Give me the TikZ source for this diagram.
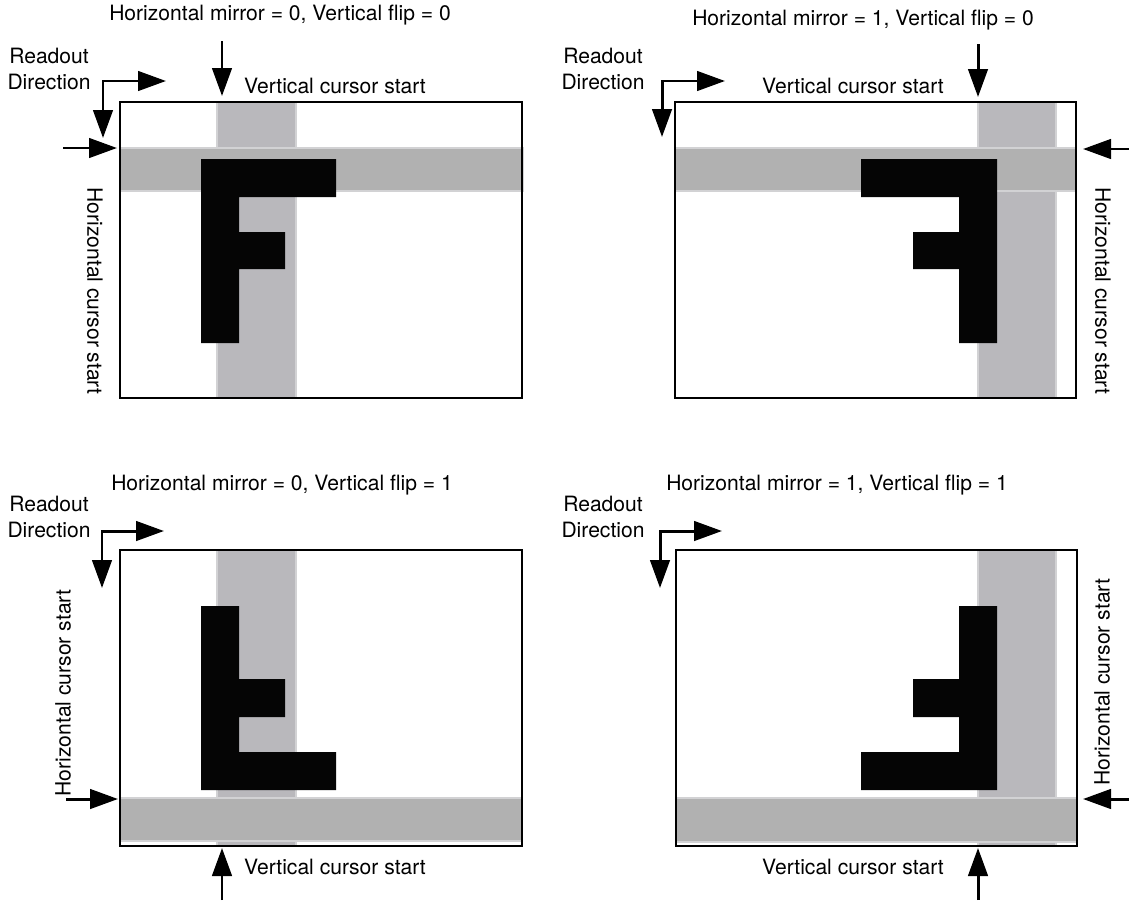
\documentclass[tikz,border=0pt]{standalone}
\usepackage{fontspec}
\setmainfont{TeX Gyre Heros}
\usepackage{tikz}
\usetikzlibrary{arrows.meta}
\definecolor{hband}{RGB}{177, 177, 177}
\definecolor{vband}{RGB}{185, 184, 188}
\definecolor{bandedge}{RGB}{210, 210, 212}
\definecolor{ink}{RGB}{5, 5, 5}

\begin{document}
\begin{tikzpicture}[x=0.02cm, y=-0.02cm, >={Triangle[length=0.56cm, width=0.39cm]}, font=\fontsize{12}{14.8}\selectfont]

  \useasboundingbox (0, 0) rectangle (1129, 900);

  \filldraw[fill=vband, draw=bandedge, line width=0.6] (217, 102) rectangle (296, 398);
  \filldraw[fill=hband, draw=bandedge, line width=0.6] (120, 148) rectangle (523, 191);
  \fill[ink] (201, 159) -- (336, 159) -- (336, 197) -- (239, 197) -- (239, 232) -- (285, 232) -- (285, 269) -- (239, 269) -- (239, 343) -- (201, 343) -- cycle;
  \draw[line width=1.3] (120, 102) rectangle (522, 398);

  \node (title-a) at (280, 15) {Horizontal mirror = 0, Vertical flip = 0};
  \node (vcs-a) at (335, 86) {Vertical cursor start};
  \node[rotate=-90] (hcs-a) at (95, 291) {Horizontal cursor start};
  \node[align=center] (readout-a) at (49, 69) {Readout\\Direction};
  \draw [->, line width=1.7] (222, 41) -- (222, 96);
  \draw [->, line width=1.7] (63, 148) -- (117, 148);
  \draw [<->, line width=1.7] (103, 138) -- (103, 81) -- (166, 81);

  \filldraw[fill=vband, draw=bandedge, line width=0.6] (978, 102) rectangle (1056, 398);
  \filldraw[fill=hband, draw=bandedge, line width=0.6] (675, 148) rectangle (1076, 191);
  \fill[ink] (861, 159) -- (997, 159) -- (997, 343) -- (959, 343) -- (959, 269) -- (913, 269) -- (913, 232) -- (959, 232) -- (959, 197) -- (861, 197) -- cycle;
  \draw[line width=1.3] (675, 102) rectangle (1076, 398);

  \node (title-b) at (863, 20) {Horizontal mirror = 1, Vertical flip = 0};
  \node (vcs-b) at (853, 86) {Vertical cursor start};
  \node[rotate=-90] (hcs-b) at (1103, 291) {Horizontal cursor start};
  \node[align=center] (readout-b) at (603, 69) {Readout\\Direction};
  \draw [->, line width=1.7] (978, 44) -- (978, 97);
  \draw [->, line width=1.7] (1129, 149) -- (1083, 149);
  \draw [<->, line width=1.7] (662, 137) -- (662, 81) -- (725, 81);

  \filldraw[fill=vband, draw=bandedge, line width=0.6] (217, 550) rectangle (296, 846);
  \filldraw[fill=hband, draw=bandedge, line width=0.6] (120, 798) rectangle (522, 841);
  \fill[ink] (201, 606) -- (239, 606) -- (239, 679) -- (285, 679) -- (285, 717) -- (239, 717) -- (239, 752) -- (336, 752) -- (336, 790) -- (201, 790) -- cycle;
  \draw[line width=1.3] (120, 550) rectangle (522, 846);

  \node (title-c) at (282, 485) {Horizontal mirror = 0, Vertical flip = 1};
  \node (vcs-c) at (335, 867) {Vertical cursor start};
  \node[rotate=90] (hcs-c) at (63, 693) {Horizontal cursor start};
  \node[align=center] (readout-c) at (49, 517) {Readout\\Direction};
  \draw [->, line width=1.7] (222, 900) -- (222, 848);
  \draw [->, line width=1.7] (66, 799) -- (118, 799);
  \draw [<->, line width=1.7] (102, 588) -- (102, 531) -- (164, 531);

  \filldraw[fill=vband, draw=bandedge, line width=0.6] (978, 550) rectangle (1056, 846);
  \filldraw[fill=hband, draw=bandedge, line width=0.6] (676, 798) rectangle (1077, 842);
  \fill[ink] (959, 606) -- (997, 606) -- (997, 790) -- (861, 790) -- (861, 752) -- (959, 752) -- (959, 717) -- (913, 717) -- (913, 679) -- (959, 679) -- cycle;
  \draw[line width=1.3] (676, 550) rectangle (1077, 846);

  \node (title-d) at (837, 485) {Horizontal mirror = 1, Vertical flip = 1};
  \node (vcs-d) at (853, 867) {Vertical cursor start};
  \node[rotate=90] (hcs-d) at (1102, 682) {Horizontal cursor start};
  \node[align=center] (readout-d) at (603, 517) {Readout\\Direction};
  \draw [->, line width=1.7] (978, 900) -- (978, 848);
  \draw [->, line width=1.7] (1129, 799) -- (1083, 799);
  \draw [<->, line width=1.7] (660, 588) -- (660, 531) -- (722, 531);

\end{tikzpicture}
\end{document}
